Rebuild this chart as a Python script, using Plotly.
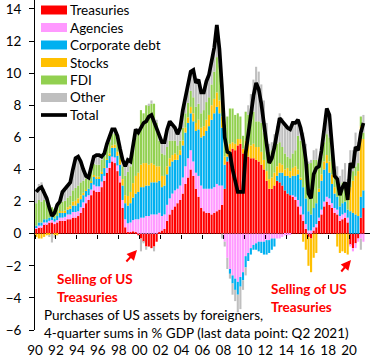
import plotly.graph_objects as go
import pandas as pd

# ---------------- data (4-quarter sums, % of GDP), 1990Q1 .. 2021Q2 ----------------
years = list(range(1990, 2022))
quarters = [f"{y}Q{q}" for y in years for q in (1, 2, 3, 4)][:126]

treasuries = [
    0.3, 0.4, 0.4, 0.6,   0.6, 0.7, 0.7, 0.6,   0.7, 0.8, 0.8, 0.8,   0.9, 0.9, 1.0, 1.0,
    1.1, 1.3, 1.6, 1.9,   2.1, 2.4, 2.7, 2.6,   2.6, 2.9, 3.3, 3.8,   4.1, 4.5, 4.4, 3.9,
    3.2, 1.6, 0.4, 0.1,   0.1, 0.15, 0.1, -0.1, -0.3, -0.5, -0.8, -0.8, -0.9, -0.8, -0.5, 0.1,
    0.2, 0.3, 0.8, 1.2,   1.5, 1.7, 1.9, 2.1,   2.5, 3.1, 3.5, 4.0,   3.6, 2.8, 2.3, 1.6,
    1.4, 1.3, 1.3, 1.2,   1.3, 1.4, 1.5, 1.8,   2.8, 4.5, 5.0, 5.3,   5.2, 5.5, 5.6, 5.0,
    5.0, 4.8, 4.7, 4.7,   4.6, 4.5, 4.3, 4.0,   3.3, 2.8, 2.8, 3.0,   3.3, 3.2, 3.0, 2.7,
    2.5, 2.4, 2.3, 2.1,   1.7, 1.2, 0.8, 0.3,   -0.2, -0.3, 0.2, 0.4, 0.8, 1.2, 1.7, 2.0,
    1.8, 1.6, 1.3, 1.2,   0.8, 0.9, 1.0, 0.7,   -0.7, -0.9, -0.6, -0.3, 1.0, 1.6]
agencies = [
    0.1, 0.1, 0.1, 0.1,   0.1, 0.1, 0.15, 0.15, 0.15, 0.2, 0.2, 0.25, 0.3, 0.3, 0.35, 0.35,
    0.3, 0.35, 0.35, 0.4, 0.3, 0.35, 0.35, 0.35, 0.35, 0.35, 0.3, 0.3, 0.3, 0.3, 0.35, 0.35,
    0.4, 0.5, 0.5, 0.55,  0.6, 0.7, 0.8, 0.9,   1.0, 1.0, 1.1, 1.1,   1.2, 1.2, 1.2, 1.2,
    0.9, 0.9, 1.0, 1.0,   1.0, 1.0, 0.9, 0.9,   1.0, 1.1, 1.2, 1.2,   0.9, 1.0, 1.3, 1.4,
    1.4, 1.5, 1.5, 1.6,   1.6, 1.7, 1.5, 1.2,   -0.5, -1.5, -2.2, -2.6, -2.8, -3.0, -2.7, -2.4,
    -1.4, -1.2, -0.9, -0.7, -0.6, -0.5, -0.5, -0.5, -0.4, -0.4, -0.3, -0.3, -0.3, -0.3, -0.2, -0.1,
    -0.1, -0.05, 0.1, 0.2, 0.4, 0.5, 0.4, 0.3,   0.2, 0.2, 0.2, 0.2,   0.2, 0.3, 0.3, 0.3,
    0.4, 0.3, 0.3, 0.3,   0.3, 0.3, 0.3, 0.3,   -0.1, -0.2, -0.3, -0.2, -0.3, -0.5]
corporate = [
    0.1, 0.2, 0.2, 0.2,   0.2, 0.2, 0.2, 0.2,   0.25, 0.3, 0.3, 0.3,  0.3, 0.35, 0.4, 0.4,
    0.5, 0.5, 0.45, 0.4,  0.4, 0.45, 0.5, 0.5,  0.5, 0.5, 0.5, 0.5,   0.5, 0.55, 0.6, 0.6,
    0.7, 0.9, 1.0, 1.1,   1.2, 1.4, 1.6, 1.7,   1.9, 1.9, 1.9, 1.9,   2.0, 2.0, 2.0, 2.0,
    1.8, 1.8, 1.9, 2.0,   2.0, 1.9, 1.8, 1.9,   2.0, 2.1, 2.2, 2.3,   2.5, 2.6, 2.9, 3.0,
    3.3, 3.6, 3.9, 4.3,   4.6, 4.8, 4.5, 3.6,   1.5, 0.3, -0.3, -0.5, -0.7, -0.8, -0.6, -0.5,
    -0.7, -0.5, -0.4, -0.3, -0.4, -0.6, -0.7, -0.8, -0.9, -0.8, -0.7, -0.5, 0.3, 0.6, 0.8, 0.9,
    1.1, 1.1, 1.2, 1.3,   1.6, 1.7, 1.7, 1.6,   1.2, 1.0, 1.2, 1.3,   1.6, 1.8, 2.0, 2.1,
    1.6, 1.2, 0.9, 0.8,   0.6, 0.7, 0.7, 0.5,   1.4, 1.3, 1.2, 1.1,   1.3, 1.1]
stocks = [
    -0.2, -0.3, -0.3, -0.2, -0.1, -0.1, 0.0, -0.1, -0.1, 0.1, 0.1, 0.1, 0.15, 0.2, 0.25, 0.3,
    0.3, 0.25, 0.15, 0.05, 0.0, 0.05, 0.1, 0.1, 0.1, 0.1, 0.05, 0.05, 0.1, 0.15, 0.2, 0.25,
    0.3, 0.4, 0.5, 0.6,   0.7, 0.9, 1.1, 1.2,   1.4, 1.5, 1.4, 1.3,   1.2, 1.1, 1.0, 0.9,
    0.7, 0.6, 0.5, 0.5,   0.4, 0.4, 0.3, 0.3,   0.3, 0.3, 0.35, 0.4,  0.5, 0.5, 0.6, 0.6,
    0.6, 0.7, 0.7, 0.9,   0.9, 0.9, 0.8, 0.7,   0.5, 0.5, 0.6, 0.4,   0.4, 0.4, 0.3, 0.3,
    0.8, 0.8, 0.8, 0.9,   0.8, 0.9, 0.8, 0.6,   0.6, 0.6, 0.7, 0.8,   0.6, 0.6, 0.5, 0.4,
    0.5, 0.4, 0.5, 0.6,   0.3, 0.1, -0.5, -1.0, -1.8, -2.1, -1.5, -1.2, 0.2, 0.4, 0.5, 0.5,
    0.7, 0.6, 0.4, -0.8,  -1.2, -1.1, -1.2, -1.3, 1.5, 2.0, 2.4, 2.8,  4.4, 3.2]
fdi = [
    1.4, 1.4, 1.3, 1.2,   1.0, 0.8, 0.6, 0.6,   0.5, 0.5, 0.6, 0.6,   0.6, 0.6, 0.7, 0.8,
    0.8, 0.8, 0.75, 0.7,  0.6, 0.7, 0.7, 0.75,  0.75, 0.75, 0.7, 0.7, 0.7, 0.7, 0.7, 0.75,
    0.5, 0.8, 1.2, 1.5,   1.6, 2.0, 2.4, 2.6,   3.4, 3.1, 3.6, 3.7,   3.7, 3.8, 2.7, 1.6,
    1.4, 1.3, 1.2, 1.1,   0.9, 0.8, 0.6, 0.6,   0.8, 0.9, 0.9, 1.0,   1.0, 1.0, 1.0, 0.9,
    1.0, 1.1, 1.1, 1.3,   1.7, 2.2, 2.2, 2.0,   2.0, 2.0, 2.2, 2.1,   1.8, 1.6, 1.4, 0.8,
    1.8, 1.8, 1.9, 2.0,   1.6, 1.6, 1.8, 1.7,   1.8, 1.7, 1.7, 1.7,   1.4, 1.3, 1.1, 1.0,
    0.7, 0.8, 0.9, 1.0,   2.1, 2.3, 2.6, 2.8,   3.0, 3.2, 3.0, 2.7,   1.3, 1.1, 1.2, 1.3,
    1.5, 1.2, 0.6, 1.0,   1.2, 1.3, 1.2, 1.0,   0.8, 0.6, 0.6, 0.5,   0.6, 0.4]
other = [
    0.9, 1.0, 1.2, 0.7,   0.4, -0.1, -0.55, -0.15, 0.3, 0.1, 0.6, 0.75, 0.75, 0.85, 1.3, 1.85,
    1.8, 1.3, 0.7, 0.15,  0.1, 0.25, 0.45, 0.6, 0.6, 0.2, 0.15, 0.25,  0.3, 0.3, 0.25, 0.25,
    0.2, 0.4, 0.6, 0.75,  0.3, 0.45, 0.5, 0.0,  -0.8, -0.1, -0.2, 0.1, 0.2, -0.3, 0.2, 0.3,
    0.7, 0.8, 1.1, 1.2,   1.0, 0.8, 0.7, 0.8,   1.1, 1.1, 1.05, 1.2,  1.7, 1.5, 1.5, 1.3,
    1.1, 1.3, 1.4, 1.6,   1.5, 2.0, 1.0, -0.3,  -0.3, -0.7, -0.3, -0.7, -0.7, -1.1, -1.4, -0.6,
    -0.5, 0.6, 1.3, 2.0,  3.4, 3.1, 2.4, 2.0,   1.2, 0.5, 0.5, 0.7,   1.1, 1.8, 1.8, 1.9,
    1.9, 1.85, 1.9, 1.7,  1.0, 0.8, 0.8, 0.6,   0.1, 0.2, 0.6, 0.7,   0.1, 0.4, 0.9, 1.6,
    1.4, 0.6, 0.1, 0.9,   0.7, 0.8, 1.2, 0.9,   1.5, 1.3, 2.1, 1.3,   -0.7, 1.1]
total = [
    2.6, 2.8, 2.9, 2.6,   2.2, 1.6, 1.1, 1.3,   1.8, 2.0, 2.6, 2.8,   3.0, 3.2, 4.0, 4.7,
    4.8, 4.5, 4.0, 3.6,   3.5, 4.2, 4.8, 4.9,   4.9, 4.8, 5.0, 5.6,   6.0, 6.5, 6.5, 6.1,
    5.3, 4.6, 4.2, 4.6,   4.5, 5.6, 6.5, 6.3,   6.6, 6.9, 7.0, 7.3,   7.4, 7.0, 6.6, 6.1,
    5.7, 5.7, 6.5, 7.0,   6.8, 6.6, 6.2, 6.6,   7.7, 8.6, 9.2, 10.1,  10.2, 9.4, 9.6, 8.8,
    8.8, 9.5, 9.9, 10.9,  11.6, 13.0, 11.5, 9.0, 6.0, 5.1, 5.0, 4.0,  3.2, 2.6, 2.6, 2.6,
    5.0, 6.3, 7.4, 8.6,   9.4, 9.0, 8.1, 7.0,   5.6, 4.4, 4.7, 5.4,   6.4, 7.2, 7.0, 6.8,
    6.6, 6.5, 6.9, 6.9,   7.1, 6.6, 5.8, 4.6,   2.5, 2.2, 3.7, 4.1,   4.2, 5.2, 6.6, 7.8,
    7.4, 5.5, 3.6, 3.4,   2.4, 2.9, 3.2, 2.1,   4.4, 4.1, 5.4, 5.2,   6.3, 6.9]

series_names = ["Treasuries", "Agencies", "Corporate debt", "Stocks", "FDI", "Other"]
series_vals = [treasuries, agencies, corporate, stocks, fdi, other]
series_cols = ["#FF0000", "#FF99FF", "#00B0F0", "#FFC000", "#92D050", "#BFBFBF"]

tick_years = list(range(1990, 2021, 2))
tick_labels = [f"{y % 100:02d}" for y in tick_years]

# quarter mid-points as dates
x_dates = pd.PeriodIndex(quarters, freq="Q").to_timestamp() + pd.Timedelta(days=45)
tick_dates = [f"{y}-01-01" for y in tick_years]
x_range = ["1990-01-01", "2022-01-01"]

# ---------------- geometry (page pixels; body margin removed by post_script) ----------------
W, H = 383, 360
L, R, T, B = 35, 13, 0, 30
pw, ph = W - L - R, H - T - B
def px(xp):            # page x -> paper x
    return (xp - L) / pw
def py(yp):            # page y -> paper y
    return (H - B - yp) / ph

FONT = "Lato, 'Open Sans', sans-serif"

fig = go.Figure()
for name, vals, col in zip(series_names, series_vals, series_cols):
    fig.add_trace(go.Bar(x=x_dates, y=vals, name=name, marker_color=col,
                         marker_line_width=0, showlegend=False))
fig.add_trace(go.Scatter(x=x_dates, y=total, name="Total", mode="lines",
                         line=dict(color="black", width=3.7), showlegend=False))
# helper trace so the zero-line tick axis is drawn
fig.add_trace(go.Scatter(x=[x_dates[0]], y=[0], xaxis="x2", mode="markers",
                         marker=dict(opacity=0), showlegend=False, hoverinfo="skip"))

ymin, ymax = -6, 14.56
zero_pos = (0 - ymin) / (ymax - ymin)

fig.update_layout(
    width=W, height=H, margin=dict(l=L, r=R, t=T, b=B),
    paper_bgcolor="white", plot_bgcolor="white",
    barmode="relative", bargap=0.18,
    font=dict(family=FONT, size=13, color="black"),
    xaxis=dict(type="date", range=x_range, showgrid=False, showline=False,
               ticks="", tickvals=tick_dates, ticktext=tick_labels,
               tickfont=dict(size=13.5), ticklabelstandoff=10, zeroline=False),
    xaxis2=dict(type="date", range=x_range, overlaying="x", anchor="free",
                position=zero_pos, side="bottom", showgrid=False, showline=False,
                ticks="outside", ticklen=4, tickwidth=1, tickcolor="black",
                tickvals=tick_dates, showticklabels=False, zeroline=False),
    yaxis=dict(range=[ymin, ymax], tick0=0, dtick=2, showgrid=False,
               showline=True, linecolor="black", linewidth=1,
               ticks="outside", ticklen=5, tickcolor="black",
               tickfont=dict(size=13.5), ticklabelstandoff=5,
               zeroline=True, zerolinecolor="black", zerolinewidth=1),
)

# ---------------- custom legend ----------------
shapes = []
annos = []
row_y = [10, 27.5, 45, 62.5, 80, 97.5, 115]
for i, (name, col) in enumerate(zip(series_names, series_cols)):
    yc = row_y[i]
    shapes.append(dict(type="rect", xref="paper", yref="paper",
                       x0=px(41), x1=px(67), y0=py(yc + 4.5), y1=py(yc - 4.5),
                       fillcolor=col, line=dict(width=0)))
    annos.append(dict(xref="paper", yref="paper", x=px(68), y=py(yc), text=name,
                      showarrow=False, xanchor="left", yanchor="middle",
                      font=dict(size=13.5)))
shapes.append(dict(type="line", xref="paper", yref="paper",
                   x0=px(41), x1=px(67), y0=py(row_y[6]), y1=py(row_y[6]),
                   line=dict(color="black", width=3.7)))
annos.append(dict(xref="paper", yref="paper", x=px(68), y=py(row_y[6]), text="Total",
                  showarrow=False, xanchor="left", yanchor="middle", font=dict(size=13.5)))

# ---------------- texts and arrows ----------------
annos.append(dict(xref="paper", yref="paper", x=px(55), y=py(287.5),
                  text="<b>Selling of US<br>Treasuries</b>", showarrow=False,
                  xanchor="left", yanchor="middle", align="left",
                  font=dict(size=13.5, color="#FF0000")))
annos.append(dict(xref="paper", yref="paper", x=px(269), y=py(298),
                  text="<b>Selling of US<br>Treasuries</b>", showarrow=False,
                  xanchor="left", yanchor="middle", align="left",
                  font=dict(size=13.5, color="#FF0000")))
annos.append(dict(xref="paper", yref="paper", x=px(42), y=py(324),
                  text="Purchases of US assets by foreigners,<br>4-quarter sums in % GDP (last data point: Q2 2021)",
                  showarrow=False, xanchor="left", yanchor="middle", align="left",
                  font=dict(size=13.5)))
for (hx, hy, tx, ty) in [(137, 250, 125, 263), (351, 260, 340, 273)]:
    annos.append(dict(xref="paper", yref="paper", x=px(hx), y=py(hy), ax=tx - hx, ay=ty - hy,
                      text="", showarrow=True, arrowhead=2, arrowsize=1, arrowwidth=2,
                      arrowcolor="#FF0000"))

fig.update_layout(shapes=shapes, annotations=annos)
fig.write_html("out.html", config={"displayModeBar": False},
               post_script="document.body.style.margin='0px';document.body.style.overflow='hidden';")
